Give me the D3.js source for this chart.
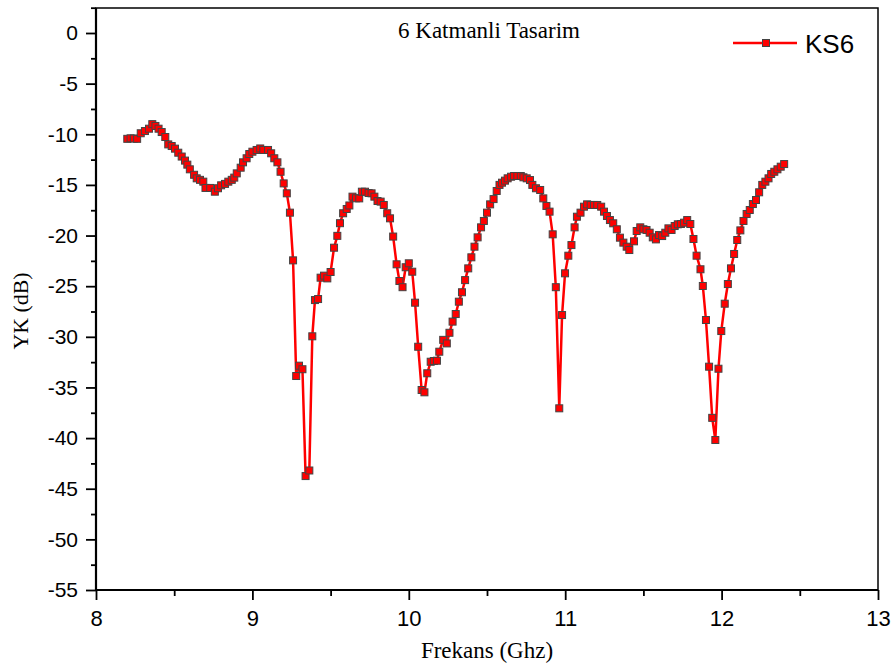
<!DOCTYPE html>
<html><head><meta charset="utf-8">
<script src="https://cdn.jsdelivr.net/npm/d3@7"></script>
<style>body{margin:0;background:#fff}</style>
</head><body>
<svg id="c" width="893" height="666"></svg>
<script>
const freq = [8.200,8.221,8.242,8.263,8.286,8.313,8.339,8.360,8.380,8.400,8.420,8.443,8.462,8.484,8.505,8.526,8.548,8.569,8.584,8.600,8.627,8.644,8.665,8.686,8.700,8.730,8.760,8.780,8.800,8.825,8.846,8.868,8.884,8.900,8.925,8.940,8.963,8.980,9.000,9.027,9.050,9.070,9.100,9.120,9.140,9.160,9.180,9.200,9.220,9.240,9.260,9.280,9.298,9.320,9.340,9.364,9.383,9.400,9.420,9.436,9.458,9.479,9.500,9.522,9.543,9.560,9.580,9.603,9.620,9.640,9.662,9.683,9.700,9.720,9.743,9.762,9.780,9.800,9.820,9.840,9.862,9.880,9.900,9.922,9.940,9.960,9.980,10.000,10.022,10.040,10.060,10.082,10.100,10.118,10.140,10.160,10.180,10.195,10.220,10.243,10.260,10.280,10.300,10.320,10.340,10.360,10.380,10.400,10.420,10.440,10.462,10.480,10.500,10.520,10.542,10.562,10.580,10.596,10.615,10.632,10.654,10.673,10.694,10.716,10.733,10.754,10.775,10.790,10.813,10.840,10.860,10.880,10.900,10.920,10.940,10.962,10.980,10.999,11.020,11.040,11.060,11.075,11.098,11.120,11.140,11.163,11.184,11.205,11.230,11.248,11.267,11.286,11.307,11.330,11.350,11.372,11.393,11.410,11.440,11.457,11.480,11.500,11.520,11.540,11.560,11.580,11.600,11.620,11.640,11.660,11.680,11.700,11.720,11.740,11.760,11.780,11.800,11.820,11.840,11.865,11.880,11.900,11.920,11.940,11.960,11.980,11.998,12.020,12.040,12.060,12.080,12.100,12.120,12.140,12.160,12.180,12.200,12.220,12.240,12.260,12.280,12.300,12.317,12.337,12.357,12.378,12.400];
const ks6 = [-10.45,-10.40,-10.42,-10.45,-9.90,-9.68,-9.45,-9.00,-9.18,-9.45,-9.78,-10.27,-11.00,-11.16,-11.42,-11.82,-12.20,-12.60,-13.00,-13.46,-14.00,-14.35,-14.50,-14.68,-15.30,-15.30,-15.67,-15.33,-15.04,-14.90,-14.68,-14.50,-14.28,-13.86,-13.30,-12.77,-12.37,-11.95,-11.72,-11.55,-11.40,-11.55,-11.55,-11.88,-12.37,-12.77,-13.70,-14.85,-15.83,-17.74,-22.45,-33.87,-32.85,-33.20,-43.75,-43.20,-29.95,-26.37,-26.27,-24.16,-23.96,-24.23,-23.60,-21.20,-20.03,-18.78,-17.80,-17.38,-17.03,-16.16,-16.32,-16.33,-15.67,-15.67,-15.80,-15.83,-16.16,-16.59,-16.65,-16.98,-17.80,-18.30,-20.10,-22.84,-24.49,-25.10,-23.13,-22.74,-23.57,-26.63,-30.98,-35.25,-35.48,-33.60,-32.46,-32.39,-32.36,-31.47,-30.30,-30.65,-29.60,-28.50,-27.75,-26.53,-25.60,-24.40,-23.24,-22.15,-21.10,-20.18,-19.19,-18.56,-17.74,-16.92,-16.40,-15.60,-15.00,-14.78,-14.58,-14.35,-14.19,-14.12,-14.12,-14.12,-14.25,-14.35,-14.52,-15.00,-15.33,-15.50,-16.33,-17.08,-17.64,-19.88,-25.10,-37.06,-27.85,-23.73,-21.99,-20.94,-19.19,-18.14,-17.74,-17.15,-16.92,-16.98,-16.98,-16.98,-17.15,-17.64,-18.07,-18.47,-18.79,-19.38,-20.21,-20.70,-21.10,-21.43,-20.57,-19.55,-19.19,-19.38,-19.45,-19.72,-20.18,-20.38,-19.95,-20.05,-19.72,-19.29,-19.45,-19.06,-18.89,-18.86,-18.73,-18.47,-18.86,-20.34,-21.99,-23.33,-24.98,-28.34,-32.95,-38.00,-40.19,-33.15,-29.43,-26.73,-24.79,-23.24,-21.82,-20.44,-19.49,-18.56,-17.87,-17.48,-16.89,-16.49,-15.73,-15.00,-14.68,-14.35,-13.92,-13.70,-13.46,-13.20,-12.94];
const xTicks = [8,9,10,11,12,13];
const xMinorTicks = [8.5,9.5,10.5,11.5,12.5];
const yTicks = [0,-5,-10,-15,-20,-25,-30,-35,-40,-45,-50,-55];
const yMinorTicks = [2.5,-2.5,-7.5,-12.5,-17.5,-22.5,-27.5,-32.5,-37.5,-42.5,-47.5,-52.5];
const titleText = "6 Katmanli Tasarim";
const xTitle = "Frekans (Ghz)";
const yTitle = "YK (dB)";
const seriesName = "KS6";

const svg = d3.select("#c");
const L = 96, R = 878, T = 8, B = 590;
const x = d3.scaleLinear().domain([8, 13]).range([L, R]);
const y = d3.scaleLinear().domain([-55, 0]).range([B, 33]);
const sans = "Liberation Sans, Arial, sans-serif";
const serif = "Liberation Serif, Times New Roman, serif";

// frame
svg.append("rect").attr("x", L).attr("y", T).attr("width", R - L).attr("height", B - T)
  .attr("fill", "none").attr("stroke", "#000").attr("stroke-width", 1.5);

// x axis
const xAxis = d3.axisBottom(x).tickValues(xTicks).tickSize(10).tickPadding(10).tickFormat(d => String(d));
const gx = svg.append("g").attr("transform", `translate(0,${B})`).call(xAxis);
gx.select(".domain").remove();
gx.selectAll(".tick line").attr("stroke-width", 1.8);
gx.selectAll("text").attr("font-family", sans).attr("font-size", 22).attr("fill", "#000");
const xMinor = svg.append("g").attr("transform", `translate(0,${B})`)
  .call(d3.axisBottom(x).tickValues(xMinorTicks).tickSize(6).tickFormat(""));
xMinor.select(".domain").remove();
xMinor.selectAll(".tick line").attr("stroke-width", 1.8);
svg.append("line").attr("x1", L).attr("x2", R).attr("y1", B).attr("y2", B).attr("stroke", "#000").attr("stroke-width", 2.2);

// y axis
const yAxis = d3.axisLeft(y).tickValues(yTicks).tickSize(10).tickPadding(8).tickFormat(d => String(d));
const gy = svg.append("g").attr("transform", `translate(${L},0)`).call(yAxis);
gy.select(".domain").remove();
gy.selectAll(".tick line").attr("stroke-width", 1.8);
gy.selectAll("text").attr("font-family", sans).attr("font-size", 21).attr("fill", "#000");
const yMinor = svg.append("g").attr("transform", `translate(${L},0)`)
  .call(d3.axisLeft(y).tickValues(yMinorTicks).tickSize(5).tickFormat(""));
yMinor.select(".domain").remove();
yMinor.selectAll(".tick line").attr("stroke-width", 1.8);
svg.append("line").attr("x1", L).attr("x2", L).attr("y1", T).attr("y2", B).attr("stroke", "#000").attr("stroke-width", 2.2);

// titles
svg.append("text").attr("x", 489).attr("y", 38).attr("text-anchor", "middle")
  .attr("font-family", serif).attr("font-size", 23).text(titleText);
svg.append("text").attr("x", 487).attr("y", 658).attr("text-anchor", "middle")
  .attr("font-family", serif).attr("font-size", 23).text(xTitle);
svg.append("text").attr("transform", `translate(28,311) rotate(-90)`).attr("text-anchor", "middle")
  .attr("font-family", serif).attr("font-size", 22)
  .attr("textLength", 77).attr("lengthAdjust", "spacingAndGlyphs").text(yTitle);

// series
const data = freq.map((f, i) => [f, ks6[i]]);
const line = d3.line().x(d => x(d[0])).y(d => y(d[1]));
svg.append("path").datum(data).attr("d", line).attr("fill", "none")
  .attr("stroke", "#ff0000").attr("stroke-width", 2.5);
const ms = 7;
svg.append("g").selectAll("rect").data(data).join("rect")
  .attr("x", d => x(d[0]) - ms / 2).attr("y", d => y(d[1]) - ms / 2)
  .attr("width", ms).attr("height", ms)
  .attr("fill", "#ff0000").attr("stroke", "#444").attr("stroke-width", 1);

// legend
svg.append("line").attr("x1", 733).attr("x2", 797).attr("y1", 43).attr("y2", 43)
  .attr("stroke", "#ff0000").attr("stroke-width", 2.5);
svg.append("rect").attr("x", 766 - ms / 2).attr("y", 43 - ms / 2).attr("width", ms).attr("height", ms)
  .attr("fill", "#ff0000").attr("stroke", "#444").attr("stroke-width", 1);
svg.append("text").attr("x", 805).attr("y", 53).attr("font-family", sans)
  .attr("font-size", 26).text(seriesName);
</script>
</body></html>
